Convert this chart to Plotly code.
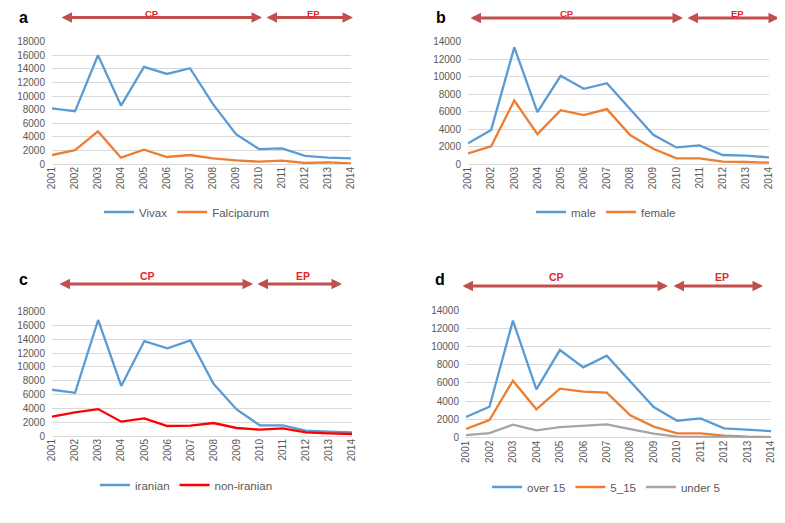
import plotly.graph_objects as go

years = [str(y) for y in range(2001, 2015)]

vivax = [8200, 7750, 16000, 8600, 14300, 13250, 14100, 8800, 4400, 2200, 2300, 1200, 930, 830]
falciparum = [1320, 2050, 4800, 930, 2100, 1030, 1320, 830, 540, 340, 490, 150, 240, 100]

male = [2360, 3900, 13350, 5930, 10100, 8600, 9250, 6300, 3350, 1900, 2130, 1030, 950, 760]
female = [1220, 2020, 7270, 3420, 6160, 5590, 6280, 3310, 1750, 650, 650, 270, 230, 150]

iranian = [6700, 6250, 16800, 7250, 13750, 12700, 13850, 7550, 3850, 1550, 1550, 780, 630, 530]
non_iranian = [2800, 3420, 3900, 2080, 2560, 1450, 1500, 1880, 1160, 920, 1110, 530, 390, 290]

over15 = [2270, 3400, 12830, 5300, 9610, 7710, 8990, 6220, 3360, 1860, 2120, 1020, 910, 730]
age5_15 = [950, 1940, 6250, 3110, 5370, 5050, 4940, 2450, 1210, 480, 480, 220, 110, 70]
under5 = [290, 510, 1430, 800, 1170, 1280, 1460, 950, 440, 110, 110, 70, 40, 30]

BLUE = "#5B9BD5"
ORANGE = "#ED7D31"
GRAY = "#A5A5A5"
RED = "#FF0000"
ARROW = "#C0504D"
TICK = "#595959"
GRID = "#D9D9D9"

# the page body has an 8px margin; lay out in page pixels and convert
OFF = 8
W, H = 785 - OFF, 523 - OFF

def px_x(p):
    return (p - OFF) / W

def px_y(p):
    return 1 - (p - OFF) / H

panels = {
    "a": dict(x0=52, x1=351, yb=164, yt=41.7, ymax=18000),
    "b": dict(x0=468, x1=769, yb=164, yt=41.7, ymax=14000),
    "c": dict(x0=52, x1=352, yb=436, yt=311.7, ymax=18000),
    "d": dict(x0=466, x1=771, yb=437.7, yt=310, ymax=14000),
}

series = {
    "a": [("Vivax", vivax, BLUE), ("Falciparum", falciparum, ORANGE)],
    "b": [("male", male, BLUE), ("female", female, ORANGE)],
    "c": [("iranian", iranian, BLUE), ("non-iranian", non_iranian, RED)],
    "d": [("over 15", over15, BLUE), ("5_15", age5_15, ORANGE), ("under 5", under5, GRAY)],
}

legend_pos = {"a": (99, 212), "b": (531, 212), "c": (95, 485), "d": (487, 487)}
letter_pos = {"a": (23, 17.5), "b": (441, 17.5), "c": (23, 279), "d": (440, 279)}
# arrows: (cp_start, cp_end, ep_start, ep_end, y, cp_text_x, ep_text_x, text_y)
arrows = {
    "a": (61, 262, 266, 353, 17.5, 152, 313, 13.4),
    "b": (470, 683, 687, 779, 18, 567, 737, 13.4),
    "c": (59, 253, 257, 342, 284, 147, 303, 276),
    "d": (462, 668, 673, 763, 286, 556, 722, 277),
}

fig = go.Figure()
layout = dict(
    width=W, height=H, margin=dict(l=0, r=0, t=0, b=0, autoexpand=False),
    paper_bgcolor="white", plot_bgcolor="white",
    font=dict(family="Liberation Sans", color=TICK),
    annotations=[], showlegend=True,
)

for i, key in enumerate(["a", "b", "c", "d"]):
    p = panels[key]
    sfx = "" if i == 0 else str(i + 1)
    xa, ya = "x" + sfx, "y" + sfx
    lg = "legend" + sfx
    for name, vals, col in series[key]:
        fig.add_trace(go.Scatter(
            x=years, y=vals, name=name, mode="lines",
            line=dict(color=col, width=2.3),
            xaxis=xa, yaxis=ya, legend=lg,
        ))
    layout["xaxis" + sfx] = dict(
        domain=[px_x(p["x0"]), px_x(p["x1"])], anchor=ya, type="category",
        tickangle=-90, tickfont=dict(size=10, color=TICK, family="Liberation Sans"),
        showgrid=False, showline=False, ticks="", zeroline=False,
    )
    layout["yaxis" + sfx] = dict(
        domain=[px_y(p["yb"]), px_y(p["yt"])], anchor=xa,
        range=[0, p["ymax"]], dtick=2000, tick0=0, tickformat="d",
        tickfont=dict(size=10, color=TICK, family="Liberation Sans"),
        showgrid=True, gridcolor=GRID, gridwidth=1,
        zeroline=True, zerolinecolor=GRID, zerolinewidth=1,
        showline=False, ticks="", ticklabelstandoff=6,
    )
    lx, ly = legend_pos[key]
    layout[lg] = dict(
        orientation="h", x=px_x(lx), y=px_y(ly), xanchor="left", yanchor="middle",
        font=dict(size=11.5, color=TICK, family="Liberation Sans"),
        bgcolor="rgba(0,0,0,0)", itemwidth=30, itemclick=False,
    )
    tx, tyy = letter_pos[key]
    layout["annotations"].append(dict(
        text="<b>%s</b>" % key, x=px_x(tx), y=px_y(tyy), xref="paper", yref="paper",
        showarrow=False, font=dict(size=16, color="black", family="Liberation Sans"),
        xanchor="center", yanchor="middle", borderpad=0,
    ))
    cs, ce, es, ee, ay_, cpx, epx, ty = arrows[key]
    for (s, e) in [(cs, ce), (es, ee)]:
        layout["annotations"].append(dict(
            text="", x=px_x(e), y=px_y(ay_), xref="paper", yref="paper",
            ax=-(e - s), ay=0, axref="pixel", ayref="pixel",
            showarrow=True, arrowside="end+start", arrowhead=2, arrowsize=0.7,
            arrowwidth=3, arrowcolor=ARROW, standoff=0, startstandoff=0,
            font=dict(size=1), borderpad=0,
        ))
    for txt, xx in [("CP", cpx), ("EP", epx)]:
        layout["annotations"].append(dict(
            text="<b>%s</b>" % txt, x=px_x(xx), y=px_y(ty), xref="paper", yref="paper",
            showarrow=False, font=dict(size=9.5 if key in "ab" else 10.5, color="#E8262A",
                                       family="Liberation Sans"),
            xanchor="center", yanchor="middle", borderpad=0,
        ))

fig.update_layout(**layout)
fig.write_html("out.html")
